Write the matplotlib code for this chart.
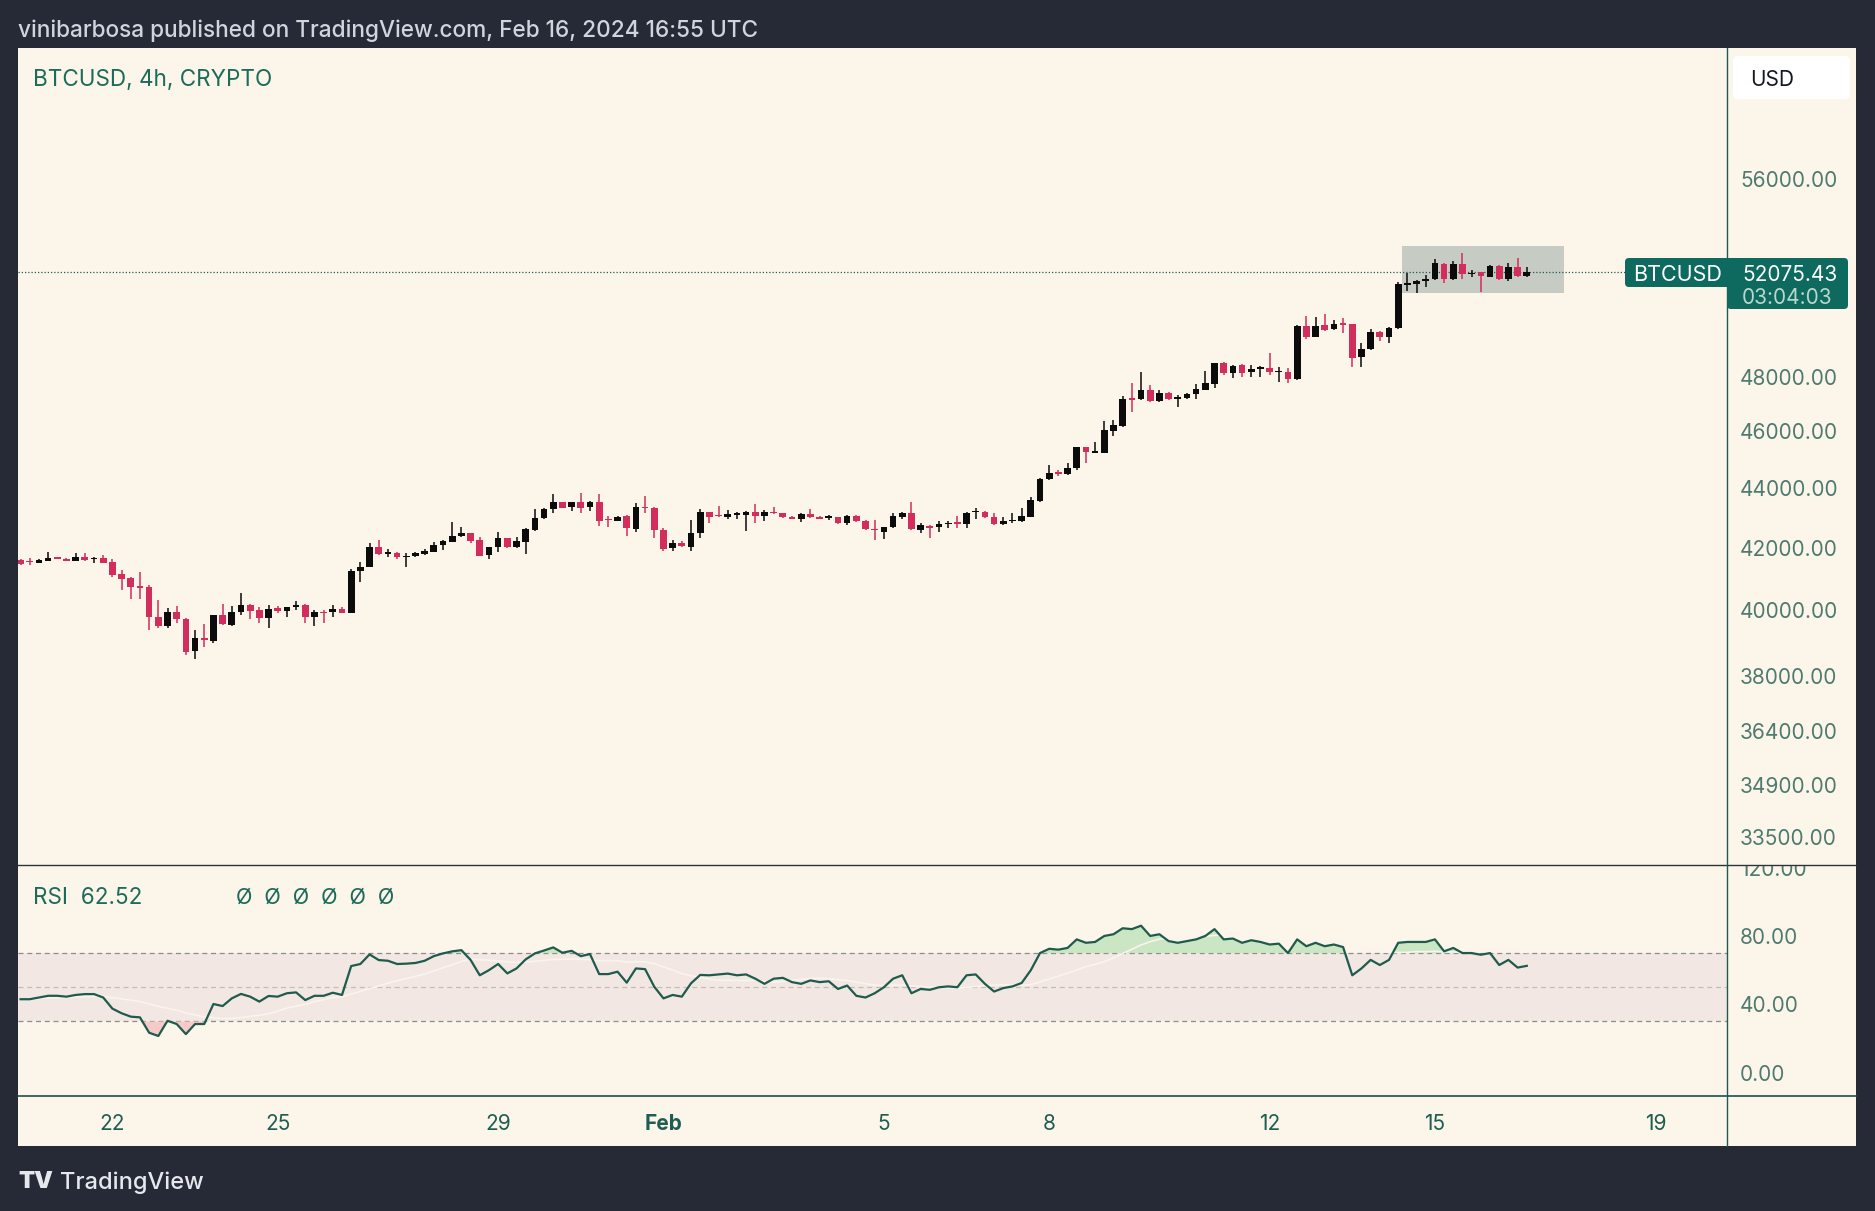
import numpy as np
import pandas as pd
import matplotlib
matplotlib.use("Agg")
import matplotlib.pyplot as plt
import matplotlib.dates as mdates
import matplotlib.transforms as mtransforms
from matplotlib.patches import Rectangle, FancyBboxPatch
from matplotlib.lines import Line2D

plt.rcParams['font.family'] = ['Inter', 'DejaVu Sans']

# BTCUSD 4h candles, Jan 20 08:00 -> Feb 16 16:00 UTC
start = '2024-01-20 08:00'
opens = [41598, 41555, 41511, 41577, 41664, 41631, 41577, 41708, 41620, 41664,
         41533, 41146, 41008, 40774, 40720, 39798, 39507, 39932, 39725, 38754,
         39128, 39057, 39849, 39538, 39932, 40160, 40005, 39746, 40057, 39974,
         40088, 40150, 39777, 39932, 39932, 40036, 39922, 41242, 41359, 42013,
         41806, 41817, 41697, 41729, 41795, 41871, 42090, 42198, 42383, 42473,
         42252, 41762, 42013, 42307, 42013, 42198, 42585, 42976, 43278, 43513,
         43345, 43513, 43345, 43513, 42931, 42898, 43054, 42607, 43356, 43311,
         42585, 41980, 42165, 42034, 42473, 43177, 43065, 43009, 43077, 43099,
         43200, 43054, 43177, 43144, 43032, 42942, 43110, 43032, 42998, 43009,
         42806, 43051, 42895, 42606, 42528, 42672, 43028, 43142, 42583, 42717,
         42672, 42784, 42817, 42784, 43187, 43198, 43028, 42772, 42884, 42895,
         43028, 43573, 44303, 44525, 44478, 44688, 45425, 45236, 45236, 46023,
         46190, 47175, 47163, 47507, 47114, 47409, 47188, 47200, 47347, 47507,
         47727, 48508, 48128, 48432, 48166, 48306, 48318, 48178, 48191, 47904,
         49944, 49527, 49983, 49814, 50022, 50009, 48737, 49042, 49710, 49527,
         49853, 51583, 51610, 51717, 51797, 52422, 51811, 52422, 51998, 52079,
         51904, 52354, 51797, 52285, 51931]
highs = [41620, 41653, 41642, 41850, 41686, 41653, 41817, 41839, 41686, 41762,
         41631, 41274, 41040, 41220, 40795, 40316, 40057, 40129, 39746, 39383,
         39569, 39849, 40181, 40129, 40529, 40192, 40088, 40160, 40129, 40109,
         40285, 40192, 40005, 40005, 40160, 40109, 41295, 41544, 42166, 42254,
         41948, 41871, 41817, 41871, 41948, 42199, 42243, 42842, 42696, 42495,
         42361, 42034, 42529, 42328, 42361, 42640, 43278, 43311, 43789, 43536,
         43536, 43846, 43571, 43789, 43054, 43054, 43077, 43479, 43731, 43345,
         42640, 42252, 42230, 42920, 43278, 43200, 43401, 43255, 43200, 43233,
         43446, 43255, 43345, 43166, 43054, 43166, 43278, 43054, 43088, 43032,
         43085, 43085, 42917, 42917, 42695, 43142, 43198, 43539, 42806, 42750,
         42895, 42895, 43051, 43198, 43312, 43221, 43164, 43028, 43164, 43312,
         43709, 44338, 44805, 44630, 44863, 45449, 45449, 45628, 46381, 46405,
         47286, 47752, 48193, 47691, 47507, 47445, 47323, 47409, 47715, 48231,
         48533, 48571, 48445, 48483, 48445, 48407, 48889, 48382, 48318, 49983,
         50335, 50309, 50413, 50179, 50270, 50022, 49270, 49814, 49762, 49918,
         51703, 52038, 51770, 51971, 52615, 52450, 52560, 52889, 52175, 52107,
         52381, 52381, 52477, 52656, 52285]
lows = [41424, 41435, 41489, 41555, 41620, 41555, 41555, 41577, 41511, 41489,
        41040, 40635, 40337, 40337, 39383, 39435, 39455, 39611, 38623, 38492,
        38875, 38996, 39538, 39518, 39849, 39715, 39590, 39435, 39901, 39777,
        40005, 39590, 39507, 39590, 39798, 39901, 39901, 40901, 41359, 41762,
        41708, 41620, 41380, 41708, 41762, 41871, 41926, 42176, 42361, 42165,
        41729, 41620, 41871, 41991, 41991, 41795, 42562, 42954, 43144, 43311,
        43233, 43144, 43233, 42719, 42674, 42898, 42383, 42529, 43144, 42307,
        41904, 41893, 42034, 41893, 42307, 42808, 43021, 42954, 42942, 42551,
        42808, 42898, 43121, 42998, 42942, 42864, 42998, 42942, 42920, 42786,
        42750, 42861, 42583, 42250, 42272, 42639, 42939, 42583, 42494, 42305,
        42528, 42639, 42639, 42639, 42939, 42973, 42750, 42750, 42806, 42861,
        43006, 43539, 44280, 44420, 44455, 44630, 44863, 45212, 45212, 45832,
        46166, 46709, 47139, 47077, 47077, 47139, 46868, 47163, 47163, 47507,
        47568, 48067, 47941, 47979, 47979, 48004, 48066, 47817, 47754, 47879,
        49423, 49501, 49762, 49788, 49684, 48382, 48356, 49016, 49359, 49270,
        49814, 51342, 51262, 51503, 51770, 51663, 51770, 51797, 51878, 51303,
        51878, 51770, 51744, 51878, 51904]
closes = [41467, 41533, 41609, 41675, 41642, 41566, 41708, 41598, 41664, 41511,
          41114, 40986, 40742, 40710, 39777, 39507, 39932, 39715, 38724, 39128,
          39077, 39849, 39559, 39932, 40150, 39984, 39746, 40026, 39974, 40088,
          40150, 39777, 39932, 39912, 40026, 39922, 41252, 41380, 42013, 41784,
          41828, 41686, 41740, 41817, 41904, 42090, 42210, 42383, 42473, 42230,
          41740, 42013, 42307, 42013, 42219, 42607, 42976, 43278, 43513, 43334,
          43513, 43334, 43513, 42898, 42909, 43032, 42641, 43345, 43323, 42585,
          41958, 42143, 42056, 42473, 43177, 43032, 43043, 43110, 43144, 43200,
          43054, 43177, 43155, 43009, 42954, 43110, 43009, 42965, 43021, 42808,
          43051, 42895, 42606, 42572, 42672, 43051, 43142, 42606, 42750, 42661,
          42784, 42828, 42795, 43164, 43210, 43005, 42772, 42884, 42906, 43062,
          43596, 44315, 44513, 44502, 44688, 45425, 45271, 45259, 46047, 46226,
          47163, 47151, 47507, 47114, 47384, 47163, 47212, 47359, 47543, 47752,
          48508, 48155, 48420, 48128, 48293, 48331, 48166, 48204, 47904, 49944,
          49527, 49944, 49788, 50022, 49996, 48699, 49042, 49710, 49527, 49879,
          51596, 51610, 51744, 51811, 52450, 51811, 52422, 51998, 52025, 51944,
          52340, 51797, 52313, 51944, 52075.43]

# RSI(14)
rsi = [43, 43, 44, 45, 45, 44.5, 45.5, 46, 46, 44,
       37.5, 34.8, 32.8, 32.4, 23.4, 21.5, 30.4, 28.5, 22.6, 28.5,
       28.5, 40.2, 39, 43.5, 46.1, 44.5, 41.6, 44.9, 44.5, 46.5,
       47, 42.5, 45, 45, 46.8, 45.5, 62.4, 63.6, 69.2, 65.9,
       65.5, 63.6, 63.8, 64.2, 65.5, 68.2, 69.8, 71, 71.7, 66,
       57, 60, 63.6, 58.1, 61, 66.3, 69.8, 71.5, 73.3, 70.2,
       71.3, 68.2, 69.4, 57.7, 57.7, 59.1, 52.7, 61, 60.6, 50.3,
       43.5, 45.5, 44.5, 52.3, 57.2, 57, 57.5, 58, 57, 57.5,
       55, 52, 55, 55.5, 53, 52, 54, 53, 53.5, 49,
       51, 45, 44, 46.5, 50, 55, 57, 46.5, 49, 48.5,
       50, 50.5, 50, 57, 57.5, 52, 47.5, 49.5, 50.5, 52.5,
       60, 70, 72.5, 72, 73, 78, 76, 76.5, 80, 81,
       84.5, 84, 86, 80, 81, 77, 76, 77, 78, 80,
       84, 78, 78.5, 76, 77.5, 76.5, 75, 75.5, 70, 78,
       74, 76, 74, 75, 73.5, 57, 61, 66, 63, 66,
       76, 76.5, 76.5, 76.5, 78, 71, 73, 70, 70, 69,
       70, 63, 66, 61.5, 62.52]

price_ticks = [56000, 48000, 46000, 44000, 42000, 40000, 38000, 36400, 34900, 33500]
rsi_ticks = [120, 80, 40, 0]
date_ticks = ['2024-01-22', '2024-01-25', '2024-01-29', '2024-02-01', '2024-02-05',
              '2024-02-08', '2024-02-12', '2024-02-15', '2024-02-19']
date_labels = ['22', '25', '29', 'Feb', '5', '8', '12', '15', '19']
last_price = 52075.43
box_lo, box_hi = 51244, 53161
box_t0, box_t1 = '2024-02-14 09:36', '2024-02-17 08:00'

# colours
FRAME = '#252a36'
CREAM = '#fcf5ea'
UP = '#0b0b0b'
DOWN = '#d22d5c'
TEAL = '#1e6b5c'
LABEL = '#4f7a70'

W, H = 1875, 1211
fig = plt.figure(figsize=(W / 100, H / 100), dpi=100, facecolor=FRAME)
px = mtransforms.Affine2D().scale(1 / W, -1 / H).translate(0, 1) + fig.transFigure


def axes_px(x0, y0, x1, y1):
    return fig.add_axes([x0 / W, 1 - y1 / H, (x1 - x0) / W, (y1 - y0) / H])


fig.add_artist(Rectangle((18, 48), 1838, 1098, transform=px, facecolor=CREAM,
                         edgecolor='none', zorder=0))

ax_p = axes_px(18, 48, 1727, 865)
ax_r = axes_px(18, 865, 1727, 1096)
ax_t = axes_px(18, 1096, 1727, 1146)
ax_ps = axes_px(1727, 48, 1856, 865)
ax_rs = axes_px(1727, 865, 1856, 1096)
for a in (ax_p, ax_r, ax_t, ax_ps, ax_rs):
    a.axis('off')

times = pd.date_range(start, periods=len(closes), freq='4h')
x = mdates.date2num(times)
o, h, l, c = (np.array(v, dtype=float) for v in (opens, highs, lows, closes))
r = np.array(rsi)

day0 = mdates.date2num(pd.Timestamp('2024-01-22'))
xlim = (day0 - 1.713, day0 + 29.30)
for a in (ax_p, ax_r, ax_t):
    a.set_xlim(*xlim)

# price pane
ax_p.set_yscale('log')
ax_p.set_ylim(32777, 62055)
ax_ps.set_yscale('log')
ax_ps.set_ylim(32777, 62055)

t0, t1 = mdates.date2num(pd.Timestamp(box_t0)), mdates.date2num(pd.Timestamp(box_t1))
ax_p.add_patch(Rectangle((t0, box_lo), t1 - t0, box_hi - box_lo,
                         facecolor='#c6cbc3', edgecolor='none', zorder=1))
ax_p.axhline(last_price, color='#1e5e54', lw=0.9, ls=(0, (1, 1.6)), zorder=2)

up = c >= o
cols = np.where(up, UP, DOWN)
width = 0.73 * 4 / 24
body_lo = np.minimum(o, c)
body_h = np.maximum(np.abs(c - o), o * 0.0009)
ax_p.vlines(x, l, h, colors=cols, lw=1.1, zorder=3)
ax_p.bar(x, body_h, width=width, bottom=body_lo, color=cols, linewidth=0, zorder=4)

blend_ps = mtransforms.blended_transform_factory(ax_ps.transAxes, ax_ps.transData)
for v in price_ticks:
    ax_ps.text(0.10, v, f'{v:.2f}', transform=blend_ps, color=LABEL, fontsize=15,
               va='center_baseline', ha='left', clip_on=True)

# RSI pane
ax_r.set_ylim(-13.6, 121.5)
ax_rs.set_ylim(-13.6, 121.5)
ax_r.axhspan(30, 70, color='#f2e7e3', lw=0, zorder=1)
ax_r.axhline(70, color='#8c8c8c', lw=0.9, ls=(0, (4, 3)), zorder=2)
ax_r.axhline(30, color='#8c8c8c', lw=0.9, ls=(0, (4, 3)), zorder=2)
ax_r.axhline(50, color='#c4bcb6', lw=0.9, ls=(0, (4, 3)), zorder=2)
ax_r.fill_between(x, r, 70, where=r > 70, interpolate=True, color='#bfe3b8',
                  alpha=0.8, lw=0, zorder=2)
ax_r.fill_between(x, r, 30, where=r < 30, interpolate=True, color='#f6c6c6',
                  alpha=0.9, lw=0, zorder=2)
rsi_ma = pd.Series(r).rolling(14, min_periods=1).mean().values
ax_r.plot(x, rsi_ma, color='#faf4ee', lw=1.2, zorder=3)
ax_r.plot(x, r, color='#1f5b4d', lw=1.6, zorder=4)

blend_rs = mtransforms.blended_transform_factory(ax_rs.transAxes, ax_rs.transData)
for v in rsi_ticks:
    ax_rs.text(0.10, v, f'{v:.2f}', transform=blend_rs, color=LABEL, fontsize=15,
               va='center_baseline', ha='left', clip_on=True)

# date axis
blend_t = mtransforms.blended_transform_factory(ax_t.transData, ax_t.transAxes)
for d, lab in zip(date_ticks, date_labels):
    ax_t.text(mdates.date2num(pd.Timestamp(d)), 0.48, lab, transform=blend_t,
              color='#1e5e52', fontsize=15, ha='center', va='center_baseline',
              fontweight='bold' if lab == 'Feb' else 'normal')

# separators
fig.add_artist(Line2D([18, 1856], [865, 865], transform=px, color='#2c3638', lw=1.0))
fig.add_artist(Line2D([18, 1856], [1096, 1096], transform=px, color='#1f5049', lw=1.2))
fig.add_artist(Line2D([1727, 1727], [48, 1146], transform=px, color='#1d5a52', lw=1.0))

# texts
fig.text(18, 28, 'vinibarbosa published on TradingView.com, Feb 16, 2024 16:55 UTC',
         transform=px, color='#d1d4dc', fontsize=16.3, fontweight='medium',
         va='center_baseline', ha='left')
fig.text(33, 77, 'BTCUSD, 4h, CRYPTO', transform=px, color=TEAL, fontsize=16.2,
         va='center_baseline', ha='left')
fig.text(33, 895, 'RSI  62.52', transform=px, color=TEAL, fontsize=16.2,
         va='center_baseline', ha='left')
fig.text(236, 896, 'Ø  Ø  Ø  Ø  Ø  Ø', transform=px, color=TEAL, fontsize=15.5,
         va='center_baseline', ha='left')

# USD box
fig.add_artist(FancyBboxPatch((1733, 56), 117, 43, transform=px,
                              boxstyle='round,pad=0,rounding_size=5',
                              facecolor='white', edgecolor='none', zorder=5))
fig.text(1750, 78, 'USD', transform=px, color='#131722', fontsize=15,
         va='center_baseline', ha='left', zorder=6)

# last price labels
fig.add_artist(FancyBboxPatch((1625, 258), 110, 29, transform=px,
                              boxstyle='round,pad=0,rounding_size=4',
                              facecolor='#0e6a5f', edgecolor='none', zorder=5))
fig.add_artist(FancyBboxPatch((1727, 258), 121, 51, transform=px,
                              boxstyle='round,pad=0,rounding_size=4',
                              facecolor='#0e6a5f', edgecolor='none', zorder=5))
fig.text(1633, 273, 'BTCUSD', transform=px, color='white', fontsize=15.5,
         va='center_baseline', ha='left', zorder=6)
fig.text(1742, 273, f'{last_price:.2f}', transform=px, color='white', fontsize=15,
         va='center_baseline', ha='left', zorder=6)
fig.text(1742, 296, '03:04:03', transform=px, color='#b9d6cf', fontsize=15,
         va='center_baseline', ha='left', zorder=6)

# footer
fig.text(18, 1180, 'TV', transform=px, color='#e6e8ee', fontsize=17,
         fontweight='black', va='center_baseline', ha='left')
fig.text(60, 1180, 'TradingView', transform=px, color='#e6e8ee', fontsize=17,
         fontweight='medium', va='center_baseline', ha='left')

fig.savefig('out.png', dpi=100, facecolor=FRAME)
